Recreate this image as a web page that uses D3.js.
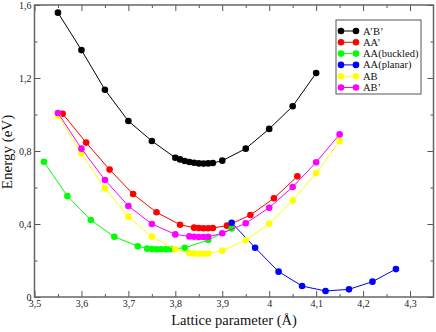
<!DOCTYPE html>
<html><head><meta charset="utf-8">
<script src="https://cdn.jsdelivr.net/npm/d3@7"></script>
<style>html,body{margin:0;padding:0;background:#fff;}svg{display:block;}</style>
</head><body>
<svg id="c" width="436" height="332"></svg>
<script>
const seriesNames = ["A’B’", "AA’", "AA(buckled)", "AA(planar)", "AB", "AB’"];
const seriesColors = ["#000000", "#ff0000", "#00ff00", "#0000ff", "#ffff00", "#ff00ff"];

const xABp = [3.55,3.60,3.65,3.70,3.75,3.80,3.81,3.82,3.83,3.84,3.85,3.86,3.87,3.88,3.90,3.95,4.00,4.05,4.10];
const yABp = [1.558,1.353,1.136,0.964,0.855,0.763,0.754,0.745,0.740,0.736,0.732,0.731,0.732,0.734,0.747,0.813,0.921,1.045,1.227];

const xAAp = [3.56,3.61,3.66,3.71,3.76,3.81,3.84,3.85,3.86,3.87,3.88,3.91,3.96,4.01,4.06];
const yAAp = [1.004,0.846,0.698,0.564,0.464,0.396,0.380,0.378,0.377,0.377,0.378,0.391,0.449,0.541,0.661];

const xAAb = [3.52,3.57,3.62,3.67,3.72,3.74,3.75,3.76,3.77,3.78,3.79,3.82,3.87,3.92];
const yAAb = [0.741,0.553,0.422,0.330,0.278,0.265,0.263,0.262,0.262,0.262,0.263,0.270,0.312,0.376];

const xAApl = [3.92,3.97,4.02,4.07,4.12,4.17,4.22,4.27];
const yAApl = [0.407,0.270,0.139,0.060,0.033,0.042,0.084,0.153];

const xAB = [3.55,3.60,3.65,3.70,3.75,3.80,3.83,3.84,3.85,3.86,3.87,3.90,3.95,4.00,4.05,4.10,4.15];
const yAB = [0.992,0.787,0.595,0.440,0.330,0.261,0.240,0.238,0.237,0.237,0.238,0.254,0.311,0.402,0.528,0.679,0.855];

const xABq = [3.55,3.60,3.65,3.70,3.75,3.80,3.83,3.84,3.85,3.86,3.87,3.90,3.95,4.00,4.05,4.10,4.15];
const yABq = [1.008,0.813,0.641,0.499,0.400,0.343,0.332,0.330,0.329,0.329,0.330,0.349,0.404,0.489,0.603,0.738,0.891];

const xMajorTicks = [3.5,3.6,3.7,3.8,3.9,4.0,4.1,4.2,4.3];
const xMinorTicks = [3.55,3.65,3.75,3.85,3.95,4.05,4.15,4.25,4.35];
const yMajorTicks = [0,0.4,0.8,1.2,1.6];
const yMinorTicks = [0.2,0.6,1.0,1.4];

const seriesX = [xABp, xAAp, xAAb, xAApl, xAB, xABq];
const seriesY = [yABp, yAAp, yAAb, yAApl, yAB, yABq];

const svg = d3.select("#c");
const L = 34.5, R = 433.5, T = 5, B = 297;
const x = d3.scaleLinear().domain([3.5, 4.35]).range([L, R]);
const y = d3.scaleLinear().domain([0, 1.6]).range([B, T]);
const fmt = d => String(+d.toFixed(2)).replace(".", ",");
const font = "'Liberation Serif','Times New Roman',serif";

function styleAxis(g){
  g.select(".domain").remove();
  g.selectAll(".tick line").attr("stroke", "#555").attr("stroke-width", 1);
  g.selectAll(".tick text").attr("font-family", font).attr("font-size", 10).attr("fill", "#222");
}

// bottom
svg.append("g").attr("transform", `translate(0,${B})`)
  .call(d3.axisBottom(x).tickValues(xMajorTicks).tickSize(-6).tickPadding(3).tickFormat(fmt)).call(styleAxis);
svg.append("g").attr("transform", `translate(0,${B})`)
  .call(d3.axisBottom(x).tickValues(xMinorTicks.filter(v=>v<4.34)).tickSize(-3).tickFormat("")).call(styleAxis);
// top
svg.append("g").attr("transform", `translate(0,${T})`)
  .call(d3.axisTop(x).tickValues(xMajorTicks).tickSize(-6).tickFormat("")).call(styleAxis);
svg.append("g").attr("transform", `translate(0,${T})`)
  .call(d3.axisTop(x).tickValues(xMinorTicks.filter(v=>v<4.34)).tickSize(-3).tickFormat("")).call(styleAxis);
// left
svg.append("g").attr("transform", `translate(${L},0)`)
  .call(d3.axisLeft(y).tickValues(yMajorTicks).tickSize(-6).tickPadding(3).tickFormat(fmt)).call(styleAxis);
svg.append("g").attr("transform", `translate(${L},0)`)
  .call(d3.axisLeft(y).tickValues(yMinorTicks).tickSize(-3).tickFormat("")).call(styleAxis);
// right
svg.append("g").attr("transform", `translate(${R},0)`)
  .call(d3.axisRight(y).tickValues(yMajorTicks).tickSize(-6).tickFormat("")).call(styleAxis);
svg.append("g").attr("transform", `translate(${R},0)`)
  .call(d3.axisRight(y).tickValues(yMinorTicks).tickSize(-3).tickFormat("")).call(styleAxis);

// frame
svg.append("rect").attr("x", L).attr("y", T).attr("width", R-L).attr("height", B-T)
  .attr("fill", "none").attr("stroke", "#666").attr("stroke-width", 1.5);

// series
const line = d3.line().x(d => x(d[0])).y(d => y(d[1]));
seriesNames.forEach((name, i) => {
  const pts = seriesX[i].map((v, j) => [v, seriesY[i][j]]);
  const g = svg.append("g");
  g.append("path").attr("d", line(pts)).attr("fill", "none")
    .attr("stroke", seriesColors[i]).attr("stroke-width", 1);
  g.selectAll("circle").data(pts).join("circle")
    .attr("cx", d => x(d[0])).attr("cy", d => y(d[1])).attr("r", 3.3)
    .attr("fill", seriesColors[i]);
});

// legend
const lg = svg.append("g");
const lx = 336, ly = 20, lw = 85, lh = 74;
lg.append("rect").attr("x", lx).attr("y", ly).attr("width", lw).attr("height", lh)
  .attr("fill", "#fff").attr("stroke", "#555").attr("stroke-width", 1);
seriesNames.forEach((name, i) => {
  const yy = 31 + i * 11.3;
  lg.append("line").attr("x1", 341).attr("x2", 356).attr("y1", yy).attr("y2", yy)
    .attr("stroke", seriesColors[i]).attr("stroke-width", 1);
  [341, 356].forEach(cx => lg.append("circle").attr("cx", cx).attr("cy", yy).attr("r", 3.3).attr("fill", seriesColors[i]));
  lg.append("text").attr("x", 363).attr("y", yy + 3.5).text(name)
    .attr("font-family", font).attr("font-size", 10.5).attr("fill", "#111");
});

// axis titles
svg.append("text").attr("x", 234).attr("y", 325).attr("text-anchor", "middle")
  .attr("font-family", font).attr("font-size", 14.5).attr("fill", "#111").text("Lattice parameter (Å)");
svg.append("text").attr("transform", "translate(12,152) rotate(-90)").attr("text-anchor", "middle")
  .attr("font-family", font).attr("font-size", 15).attr("fill", "#111").text("Energy (eV)");
</script>
</body></html>
